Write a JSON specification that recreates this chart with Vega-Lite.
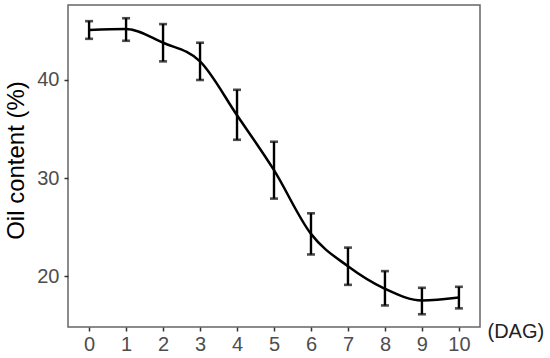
{
  "$schema": "https://vega.github.io/schema/vega-lite/v6.json",
  "autosize": "none",
  "padding": {"left": 68, "top": 5, "right": 70, "bottom": 31},
  "width": 412,
  "height": 322,
  "background": "white",
  "config": {
    "view": {"stroke": "#666666", "strokeWidth": 1.5},
    "font": "Liberation Sans",
    "axis": {
      "grid": false,
      "domain": false,
      "tickColor": "#333333",
      "tickWidth": 1.5,
      "tickSize": 4,
      "labelFont": "Liberation Sans",
      "labelFontSize": 20,
      "labelColor": "#4d4d4d",
      "titleFont": "Liberation Sans",
      "titleFontWeight": "normal",
      "titleColor": "#000000"
    }
  },
  "data": {
    "values": [
      {"dag": 0, "oil": 45.1, "lo": 44.2, "hi": 46.0},
      {"dag": 1, "oil": 45.2, "lo": 44.0, "hi": 46.3},
      {"dag": 2, "oil": 43.8, "lo": 41.9, "hi": 45.7},
      {"dag": 3, "oil": 41.9, "lo": 40.0, "hi": 43.8},
      {"dag": 4, "oil": 36.4, "lo": 33.9, "hi": 39.0},
      {"dag": 5, "oil": 30.8, "lo": 27.9, "hi": 33.7},
      {"dag": 6, "oil": 24.3, "lo": 22.2, "hi": 26.4},
      {"dag": 7, "oil": 21.0, "lo": 19.1, "hi": 22.9},
      {"dag": 8, "oil": 18.7, "lo": 17.0, "hi": 20.5},
      {"dag": 9, "oil": 17.5, "lo": 16.1, "hi": 18.8},
      {"dag": 10, "oil": 17.8, "lo": 16.7, "hi": 18.9}
    ]
  },
  "layer": [
    {
      "mark": {"type": "line", "interpolate": "monotone", "color": "#000000", "strokeWidth": 2.5},
      "encoding": {
        "x": {
          "field": "dag", "type": "quantitative", "title": "(DAG)",
          "scale": {"domain": [-0.57, 10.57], "nice": false, "zero": false},
          "axis": {
            "values": [0,1,2,3,4,5,6,7,8,9,10],
            "labelPadding": 3,
            "titleFontSize": 20,
            "titleColor": "#222222",
            "titleAlign": "left",
            "titleBaseline": "middle",
            "titleX": 419,
            "titleY": 4
          }
        },
        "y": {
          "field": "oil", "type": "quantitative", "title": "Oil content (%)",
          "scale": {"domain": [14.8, 47.65], "nice": false, "zero": false},
          "axis": {
            "values": [20, 30, 40],
            "labelPadding": 5,
            "titleFontSize": 24,
            "titleAngle": -90,
            "titleAlign": "center",
            "titleBaseline": "middle",
            "titleX": -52,
            "titleY": 155
          }
        }
      }
    },
    {
      "mark": {"type": "errorbar", "ticks": {"size": 8, "thickness": 2.6, "color": "#000000"}, "thickness": 2.4, "color": "#000000"},
      "encoding": {
        "x": {"field": "dag", "type": "quantitative", "title": "(DAG)"},
        "y": {"field": "lo", "type": "quantitative", "title": "Oil content (%)"},
        "y2": {"field": "hi"}
      }
    }
  ]
}
